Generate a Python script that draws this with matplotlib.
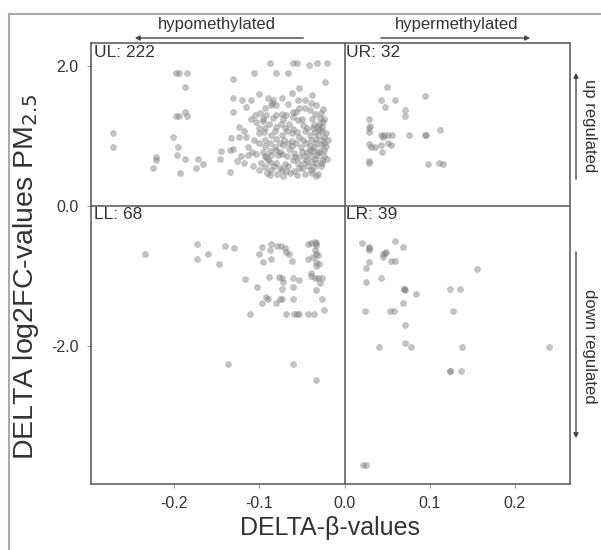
import matplotlib
matplotlib.use("Agg")
import matplotlib.pyplot as plt
from matplotlib.patches import FancyArrowPatch
from matplotlib.lines import Line2D

plt.rcParams['font.family'] = ['Liberation Sans', 'DejaVu Sans']

# upper left quadrant: hypomethylated + up regulated (222 genes)
ul_x = [
    # left group
    -0.272, -0.272, -0.198, -0.194, -0.185, -0.187, -0.198, -0.194, -0.187, -0.185,
    -0.202, -0.196, -0.197, -0.188, -0.222, -0.222, -0.225, -0.193, -0.175, -0.172, -0.166,
    # top row
    -0.088, -0.061, -0.056, -0.042, -0.032, -0.021,
    # main cluster
    -0.107, -0.081, -0.067, -0.131, -0.023, -0.054, -0.131, -0.120, -0.110, -0.116,
    -0.131, -0.090, -0.084, -0.074, -0.055, -0.046, -0.025, -0.094, -0.086, -0.080, -0.105,
    -0.092, -0.080, -0.069, -0.061, -0.053, -0.047, -0.041, -0.104, -0.089, -0.075,
    -0.065, -0.055, -0.049, -0.036, -0.030, -0.027, -0.124,
    -0.134, -0.124, -0.116, -0.100, -0.086, -0.074, -0.062, -0.053, -0.041, -0.031, -0.024,
    -0.088, -0.076, -0.067, -0.057, -0.045, -0.033, -0.024, -0.146, -0.145, -0.135,
    -0.131, -0.135, -0.126,
    -0.113, -0.113, -0.104, -0.100, -0.101, -0.092, -0.090, -0.086, -0.086, -0.076, -0.073, -0.069,
    -0.080, -0.073, -0.065, -0.061, -0.053, -0.045, -0.059, -0.050, -0.039, -0.041,
    -0.031, -0.024, -0.035, -0.027, -0.021, -0.031, -0.025, -0.030, -0.022,
    # dense core
    -0.085, -0.066, -0.040, -0.033,
    -0.099, -0.074, -0.057, -0.035, -0.028,
    -0.110, -0.096, -0.084, -0.072, -0.060, -0.050, -0.038, -0.029, -0.024,
    -0.101, -0.093, -0.080, -0.070, -0.060, -0.044, -0.037, -0.031,
    -0.118, -0.095, -0.082, -0.068, -0.056, -0.046, -0.035, -0.027,
    -0.107, -0.094, -0.080, -0.071, -0.062, -0.049, -0.040, -0.034, -0.027, -0.020,
    -0.094, -0.082, -0.072, -0.062, -0.051, -0.041, -0.036, -0.028, -0.022,
    -0.109, -0.096, -0.088, -0.076, -0.059, -0.050, -0.044, -0.037, -0.029,
    -0.122, -0.094, -0.078, -0.068, -0.058, -0.047, -0.039, -0.032, -0.024,
    -0.118, -0.098, -0.088, -0.080, -0.070, -0.055, -0.048, -0.040, -0.033, -0.026,
    -0.108, -0.094, -0.083, -0.066, -0.053, -0.043, -0.036, -0.028,
    -0.091, -0.079, -0.064, -0.046, -0.038,
    -0.088, -0.072, -0.056, -0.033,
    -0.100, -0.062, -0.038,
    -0.096,
]
ul_y = [
    1.04, 0.85, 1.90, 1.90, 1.90, 1.70, 1.29, 1.29, 1.35, 1.29,
    0.99, 0.85, 0.73, 0.67, 0.70, 0.66, 0.55, 0.47, 0.54, 0.67, 0.60,
    2.04, 2.04, 2.04, 2.01, 2.04, 2.04,
    1.90, 1.90, 1.90, 1.81, 1.77, 1.69, 1.55, 1.51, 1.51, 1.41,
    1.34, 1.54, 1.51, 1.54, 1.51, 1.51, 1.39, 1.40, 1.44, 1.45, 1.30,
    1.30, 1.30, 1.30, 1.35, 1.40, 1.40, 1.37, 1.20, 1.18, 1.18,
    1.18, 1.23, 1.16, 1.16, 1.18, 1.13, 1.13,
    0.97, 0.99, 0.99, 1.04, 1.01, 1.01, 1.04, 0.99, 1.01, 1.01, 0.99,
    0.90, 0.90, 0.90, 0.90, 0.90, 0.90, 0.90, 0.68, 0.79, 0.80,
    0.82, 0.49, 0.65,
    0.85, 0.73, 0.75, 0.90, 0.51, 0.70, 0.66, 0.73, 0.51, 0.54, 0.51, 0.50,
    0.80, 0.75, 0.82, 0.66, 0.70, 0.66, 0.50, 0.54, 0.52, 0.80,
    0.78, 0.80, 0.68, 0.66, 0.67, 0.46, 1.20, 1.09, 1.04,
    1.47, 1.46, 1.48, 1.45,
    1.33, 1.32, 1.34, 1.31, 1.33,
    1.25, 1.24, 1.26, 1.25, 1.27, 1.24, 1.25, 1.26, 1.24,
    1.12, 1.11, 1.13, 1.12, 1.10, 1.12, 1.11, 1.13,
    1.07, 1.06, 1.07, 1.08, 1.06, 1.07, 1.06, 1.08,
    0.95, 0.94, 0.96, 0.95, 0.93, 0.95, 0.94, 0.96, 0.95, 0.94,
    0.86, 0.85, 0.87, 0.86, 0.84, 0.86, 0.85, 0.87, 0.86,
    0.78, 0.77, 0.79, 0.78, 0.76, 0.78, 0.77, 0.79, 0.78,
    0.72, 0.71, 0.73, 0.72, 0.70, 0.72, 0.71, 0.73, 0.72,
    0.62, 0.61, 0.63, 0.62, 0.60, 0.62, 0.61, 0.63, 0.62, 0.61,
    0.57, 0.56, 0.58, 0.57, 0.55, 0.57, 0.56, 0.58,
    0.47, 0.46, 0.48, 0.46, 0.47,
    0.44, 0.43, 0.44, 0.43,
    1.60, 1.61, 1.59,
    1.21,
]

# upper right: hypermethylated + up regulated (32)
ur_x = [0.050, 0.043, 0.059, 0.094, 0.047, 0.071, 0.071, 0.029, 0.029, 0.029,
        0.043, 0.046, 0.051, 0.056, 0.045, 0.076, 0.094, 0.096, 0.112, 0.029,
        0.031, 0.036, 0.043, 0.051, 0.055, 0.044, 0.029, 0.029, 0.098, 0.111,
        0.116, 0.030]
ur_y = [1.70, 1.52, 1.52, 1.57, 1.42, 1.38, 1.29, 1.24, 1.12, 1.06,
        1.02, 1.02, 1.02, 1.02, 0.99, 1.02, 1.02, 1.02, 1.09, 0.89,
        0.85, 0.85, 0.87, 0.90, 0.88, 0.77, 0.64, 0.62, 0.60, 0.62,
        0.60, 1.14]

# lower left: hypomethylated + down regulated (68)
ll_x = [-0.235, -0.173, -0.173, -0.161, -0.148, -0.140, -0.130, -0.117, -0.111, -0.103,
        -0.097, -0.100, -0.096, -0.097, -0.090, -0.089, -0.086, -0.079, -0.075, -0.086,
        -0.077, -0.072, -0.073, -0.074, -0.080, -0.076, -0.073, -0.069, -0.065, -0.062,
        -0.060, -0.054, -0.060, -0.060, -0.069, -0.059, -0.056, -0.054, -0.043, -0.039,
        -0.035, -0.033, -0.043, -0.037, -0.033, -0.034, -0.030, -0.039, -0.035, -0.031,
        -0.026, -0.033, -0.026, -0.024, -0.043, -0.036, -0.137, -0.060, -0.034,
        -0.033, -0.035, -0.031, -0.040, -0.088, -0.070, -0.034, -0.029, -0.092]
ll_y = [-0.68, -0.54, -0.75, -0.68, -0.83, -0.57, -0.60, -1.04, -1.54, -1.15,
        -0.58, -0.69, -0.80, -1.38, -1.33, -1.01, -0.54, -0.57, -0.57, -0.75,
        -1.01, -1.08, -1.02, -1.18, -1.38, -1.33, -1.32, -0.65, -0.69, -0.79,
        -1.02, -1.05, -1.15, -1.33, -1.54, -1.54, -1.54, -1.54, -0.54, -0.53,
        -0.51, -0.56, -0.75, -0.72, -0.68, -0.80, -0.82, -0.96, -1.02, -1.02,
        -1.02, -1.20, -1.32, -1.49, -1.54, -1.54, -2.26, -2.26, -2.48,
        -0.52, -0.62, -0.70, -1.00, -0.62, -0.60, -0.85, -1.10, -1.30]

# lower right: hypermethylated + down regulated (39)
lr_x = [0.021, 0.029, 0.029, 0.059, 0.069, 0.045, 0.049, 0.045, 0.055, 0.059,
        0.029, 0.025, 0.156, 0.043, 0.025, 0.070, 0.071, 0.084, 0.124, 0.136,
        0.069, 0.024, 0.054, 0.058, 0.127, 0.071, 0.041, 0.071, 0.078, 0.138,
        0.240, 0.124, 0.137, 0.022, 0.025, 0.029, 0.047, 0.070, 0.124]
lr_y = [-0.53, -0.58, -0.63, -0.50, -0.58, -0.68, -0.66, -0.73, -0.78, -0.78,
        -0.80, -0.89, -0.90, -1.03, -1.09, -1.18, -1.20, -1.25, -1.19, -1.19,
        -1.39, -1.50, -1.50, -1.50, -1.50, -1.70, -2.01, -1.96, -2.01, -2.01,
        -2.01, -2.36, -2.36, -3.70, -3.70, -0.60, -0.67, -1.18, -2.36]

quad_labels = ['UL: 222', 'UR: 32', 'LL: 68', 'LR: 39']
x_ticks = [-0.2, -0.1, 0.0, 0.1, 0.2]
x_ticklabels = ['-0.2', '-0.1', '0.0', '0.1', '0.2']
y_ticks = [2.0, 0.0, -2.0]
y_ticklabels = ['2.0', '0.0', '-2.0']

W, H = 601, 550
txt = '#333333'
line_c = '#555555'


def fx(px):
    return px / W


def fy(py):
    return 1 - py / H


fig = plt.figure(figsize=(W / 100, H / 100), dpi=100)
ax = fig.add_axes([fx(91), fy(484), (570 - 91) / W, (484 - 43) / H])

for xs, ys in [(ul_x, ul_y), (ur_x, ur_y), (ll_x, ll_y), (lr_x, lr_y)]:
    ax.scatter(xs, ys, s=24, color='#808080', alpha=0.48, linewidths=0, zorder=3)

ax.axvline(0, color=line_c, lw=1.1, zorder=2)
ax.axhline(0, color=line_c, lw=1.1, zorder=2)
ax.set_xlim(-0.298, 0.265)
ax.set_ylim(-3.97, 2.33)

ax.set_xticks(x_ticks)
ax.set_xticklabels(x_ticklabels)
ax.set_yticks(y_ticks)
ax.set_yticklabels(y_ticklabels)
ax.tick_params(length=3, width=0.8, color='#999999', labelsize=11.5,
               labelcolor=txt, pad=6)
for sp in ax.spines.values():
    sp.set_color(line_c)
    sp.set_linewidth(1.1)

ax.set_xlabel('DELTA-β-values', fontsize=18, color=txt, labelpad=3)
ax.set_ylabel('DELTA log2FC-values PM$_{2.5}$', fontsize=20.5, color=txt, labelpad=6)
ax.yaxis.set_label_coords(-0.105, 0.47)

# quadrant counts
ax.text(0.006, 0.995, quad_labels[0], transform=ax.transAxes, ha='left', va='top', fontsize=12.5, color=txt)
ax.text(0.533, 0.995, quad_labels[1], transform=ax.transAxes, ha='left', va='top', fontsize=12.5, color=txt)
ax.text(0.006, 0.628, quad_labels[2], transform=ax.transAxes, ha='left', va='top', fontsize=12.5, color=txt)
ax.text(0.533, 0.628, quad_labels[3], transform=ax.transAxes, ha='left', va='top', fontsize=12.5, color=txt)

# direction annotations outside the axes
fig.text(fx(217), fy(25), 'hypomethylated', ha='center', va='center', fontsize=12, color=txt)
fig.text(fx(457), fy(25), 'hypermethylated', ha='center', va='center', fontsize=12, color=txt)
fig.text(fx(589), fy(126), 'up regulated', ha='center', va='center', rotation=-90, fontsize=12, color=txt)
fig.text(fx(589), fy(346), 'down regulated', ha='center', va='center', rotation=-90, fontsize=12, color=txt)

arrows = [((306, 38), (132, 38)), ((378, 38), (533, 38)),
          ((576, 182), (576, 70)), ((576, 249), (576, 441))]
for (x0, y0), (x1, y1) in arrows:
    fig.add_artist(FancyArrowPatch((fx(x0), fy(y0)), (fx(x1), fy(y1)),
                                   transform=fig.transFigure, arrowstyle='-|>',
                                   mutation_scale=7, lw=1.0, color='#444444'))

# light frame around the panel
fig.add_artist(Line2D([fx(9), 1], [fy(14), fy(14)], transform=fig.transFigure,
                      color='#aaaaaa', lw=1.5))
fig.add_artist(Line2D([fx(9), fx(9)], [0, fy(14)], transform=fig.transFigure,
                      color='#aaaaaa', lw=1.5))

fig.savefig('out.png', dpi=100)
